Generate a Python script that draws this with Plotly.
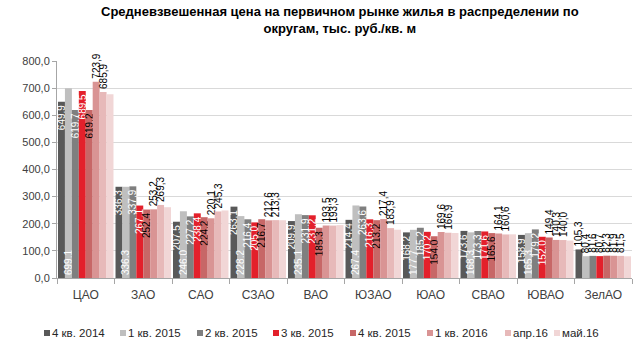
import plotly.graph_objects as go

categories = ["ЦАО", "ЗАО", "САО", "СЗАО", "ВАО", "ЮЗАО", "ЮАО", "СВАО", "ЮВАО", "ЗелАО"]
series_names = ["4 кв. 2014", "1 кв. 2015", "2 кв. 2015", "3 кв. 2015",
                "4 кв. 2015", "1 кв. 2016", "апр.16", "май.16"]

q4_2014 = [649.9, 336.3, 207.5, 263.1, 209.9, 214.4, 168.2, 173.6, 158.9, 105.3]
q1_2015 = [699.1, 336.3, 246.0, 228.2, 235.1, 267.4, 177.7, 168.3, 165.3, 80.4]
q2_2015 = [619.7, 337.9, 227.2, 216.4, 231.9, 263.6, 185.2, 173.3, 179.2, 81.6]
q3_2015 = [689.5, 267.1, 238.4, 205.0, 231.2, 216.3, 170.2, 171.6, 152.0, 80.7]
q4_2015 = [619.2, 252.4, 224.2, 216.7, 185.3, 213.2, 154.0, 165.6, 149.4, 82.3]
q1_2016 = [723.9, 253.2, 220.1, 212.6, 193.5, 217.4, 169.6, 164.1, 140.3, 81.9]
apr_16 = [685.9, 269.3, 245.3, 213.3, 193.3, 183.9, 166.9, 160.6, 140.0, 81.5]
may_16 = [677.0, 261.0, 249.0, 213.0, 195.0, 178.0, 166.0, 161.0, 138.0, 80.0]

all_series = [q4_2014, q1_2015, q2_2015, q3_2015, q4_2015, q1_2016, apr_16, may_16]

colors = ["#595959", "#bfbfbf", "#7f7f7f", "#e3202b",
          "#c76767", "#d99494", "#e7b9b9", "#f1d6d6"]

# layout geometry (pixels)
W, H = 641, 351
ML, MR, MT, MB = 57, 9, 61, 73
PW, PH = W - ML - MR, H - MT - MB
legend_icon_px = [44, 120, 197, 273, 350, 427, 505, 554]
legend_y_px = 333


def fmt(v):
    return f"{v:.1f}".replace(".", ",")


def positions(i):
    n = len(categories)
    if i in (0, 1, 2, 3):
        return ["inside"] * (n - 1) + ["outside"]
    if i == 4:
        return ["inside"] * (n - 2) + ["outside", "outside"]
    if i in (5, 6):
        return ["outside"] * n
    return ["none"] * n


def px_x(px):
    return (px - ML) / PW


def px_y(py):
    return (H - MB - py) / PH


fig = go.Figure()
for i, (name, vals) in enumerate(zip(series_names, all_series)):
    inside_col = "white" if i < 4 else "black"
    fig.add_trace(go.Bar(
        name=name,
        x=categories,
        y=vals,
        marker=dict(color=colors[i], line=dict(width=0)),
        text=[fmt(v) for v in vals],
        textposition=positions(i),
        textangle=-90,
        insidetextanchor="start" if i == 1 else "end",
        constraintext="none",
        cliponaxis=False,
        showlegend=False,
        insidetextfont=dict(family="Liberation Sans", size=10, color=inside_col),
        outsidetextfont=dict(family="Liberation Sans", size=10, color="black"),
    ))

annotations = [dict(
    text="<b>Средневзвешенная цена на первичном рынке жилья в распределении по<br>округам, тыс. руб./кв. м</b>",
    xref="paper", x=px_x(340), xanchor="center",
    yref="paper", y=px_y(2), yanchor="top",
    showarrow=False,
    font=dict(family="Liberation Sans", size=13, color="black"),
)]
shapes = []
for i, name in enumerate(series_names):
    x0 = legend_icon_px[i]
    shapes.append(dict(
        type="rect", xref="paper", yref="paper",
        x0=px_x(x0), x1=px_x(x0 + 6),
        y0=px_y(legend_y_px + 3), y1=px_y(legend_y_px - 3),
        fillcolor=colors[i], line=dict(width=0),
    ))
    annotations.append(dict(
        text=name, xref="paper", yref="paper",
        x=px_x(x0 + 6), xanchor="left",
        y=px_y(legend_y_px), yanchor="middle",
        showarrow=False,
        font=dict(family="Liberation Sans", size=11.5, color="#262626"),
    ))

fig.update_layout(
    width=W, height=H,
    margin=dict(l=ML, r=MR, t=MT, b=MB),
    paper_bgcolor="white", plot_bgcolor="white",
    separators=", ",
    barmode="group", bargap=0.035, bargroupgap=0,
    font=dict(family="Liberation Sans", color="#404040"),
    annotations=annotations,
    shapes=shapes,
    showlegend=False,
)

fig.update_xaxes(
    showline=True, linecolor="#a6a6a6", linewidth=1,
    ticks="outside", tickson="boundaries", ticklen=5, tickcolor="#a6a6a6",
    tickfont=dict(family="Liberation Sans", size=12, color="#404040"),
    ticklabelstandoff=6,
    showgrid=False,
)
fig.update_yaxes(
    range=[0, 800], dtick=100, tickformat=".1f",
    showline=True, linecolor="#a6a6a6", linewidth=1,
    ticks="outside", ticklen=4, tickcolor="#a6a6a6",
    showgrid=True, gridcolor="#d9d9d9", gridwidth=1,
    zeroline=False,
    tickfont=dict(family="Liberation Sans", size=11, color="#404040"),
)

fig.write_html("out.html")
